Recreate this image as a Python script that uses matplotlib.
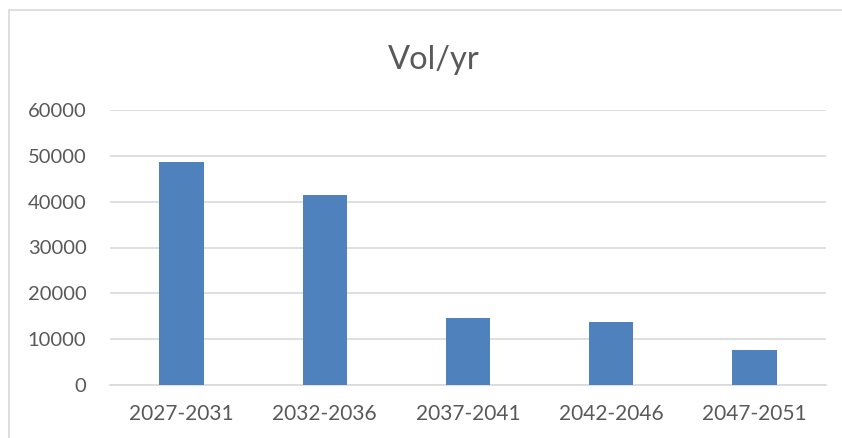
import matplotlib.pyplot as plt
from matplotlib.patches import Rectangle

categories = ["2027-2031", "2032-2036", "2037-2041", "2042-2046", "2047-2051"]
volumes = [48650, 41450, 14600, 13750, 7640]
y_ticks = [0, 10000, 20000, 30000, 40000, 50000, 60000]

bar_color = "#4F81BD"
text_color = "#595959"
grid_color = "#D9D9D9"

plt.rcParams['font.family'] = ['Lato', 'DejaVu Sans']

fig = plt.figure(figsize=(8.42, 4.38), dpi=100)
W, H = 842, 438
ax = fig.add_axes([110 / W, 1 - 385 / H, (826 - 110) / W, (385 - 110) / H])

# outer chart frame (Excel style)
fig.patches.append(Rectangle((8.5 / W, -0.1), 1.2, 1 - 10.5 / H + 0.1,
                             transform=fig.transFigure, fill=False,
                             edgecolor=grid_color, linewidth=1.2))

x = range(len(categories))
ax.bar(x, volumes, width=0.31, color=bar_color, zorder=3)

ax.set_xlim(-0.5, len(categories) - 0.5)
ax.set_ylim(0, 60000)
ax.set_yticks(y_ticks)
ax.set_yticklabels([str(v) for v in y_ticks])
ax.set_xticks(list(x))
ax.set_xticklabels(categories)

ax.grid(True, axis='y', color=grid_color, linewidth=1.2, zorder=0)
for s in ['top', 'right', 'left']:
    ax.spines[s].set_visible(False)
ax.spines['bottom'].set_color(grid_color)
ax.spines['bottom'].set_linewidth(1.2)
ax.tick_params(axis='both', length=0, labelcolor=text_color)
ax.tick_params(axis='x', pad=14, labelsize=15)
ax.tick_params(axis='y', pad=17, labelsize=14.5)

fig.text(434 / W, 1 - 60 / H, "Vol/yr", ha='center', va='center',
         fontsize=23.5, color=text_color)

fig.savefig("out.png", dpi=100)
